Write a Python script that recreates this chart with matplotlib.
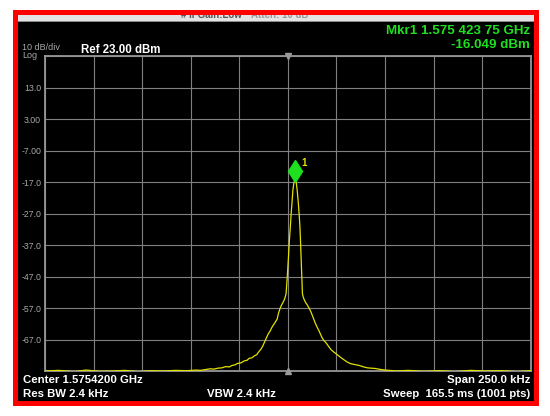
import matplotlib
matplotlib.use("Agg")
import matplotlib.pyplot as plt
import matplotlib.transforms as mtransforms
from matplotlib.patches import Rectangle
import numpy as np

plt.rcParams['font.family'] = ['Liberation Sans', 'DejaVu Sans']

# trace: offset from centre (kHz) and level (dBm)
freq_khz = [-125, -118, -110, -104, -97, -90, -84, -77, -70, -64, -58, -52, -47, -45,
            -42, -40, -38, -36, -34, -32, -30, -29, -27, -26, -24, -22.5, -21, -20,
            -18.5, -17, -16, -15, -14, -13, -12, -11, -10, -9.2, -8.5, -7.8, -7, -6.2,
            -5.5, -4.8, -4, -3.2, -2.5, -2.0, -1.5, -0.9, -0.3, 0.4, 0.8, 1.3, 1.7, 2.2,
            2.6, 3.1, 3.76, 4.3, 4.8, 5.3, 5.8, 6.2, 6.5, 7.0, 7.5, 7.9, 8.6, 9.2, 10,
            10.8, 11.5, 12.2, 13, 14, 15, 16, 16.8, 17.6, 18.4, 19.6, 21, 22.2, 23.5,
            25, 27, 28.8, 30.4, 32, 34, 36.5, 39, 41, 43, 45, 47.6, 50, 52, 54, 56, 62,
            70, 78, 86, 94, 102, 110, 118, 125]
level_dbm = [-77.0, -76.8, -77.2, -76.7, -77.1, -77.0, -76.8, -77.2, -76.9, -77.0, -76.8,
             -76.9, -76.7, -76.8, -76.5, -76.3, -76.4, -76.1, -76.0, -75.6, -75.7, -75.3,
             -75.0, -74.6, -74.4, -73.8, -73.6, -73.0, -72.8, -72.1, -71.8, -70.9, -70.2,
             -69.2, -67.8, -66.4, -65.1, -64.4, -63.5, -62.7, -62.0, -61.2, -60.5, -58.6,
             -57.1, -56.0, -55.2, -54.6, -53.8, -52.4, -47.0, -40.0, -35.4, -31.0, -27.0,
             -23.0, -19.5, -17.2, -16.05, -17.0, -19.5, -23.0, -27.0, -31.0, -35.4, -44.0,
             -52.4, -53.5, -54.6, -55.3, -56.0, -56.9, -57.7, -58.7, -60.0, -61.6, -63.0,
             -64.2, -65.3, -66.4, -67.2, -68.0, -69.2, -70.2, -70.9, -71.6, -72.6, -73.4,
             -74.1, -74.6, -74.9, -75.2, -75.7, -76.0, -76.1, -76.2, -76.5, -76.7, -76.8,
             -76.9, -77.0, -76.8, -77.1, -76.9, -77.2, -76.8, -77.0, -76.9, -77.2, -76.9]

ref_level = 23.0
db_per_div = 10
span_khz = 250.0
ytick_labels = ["13.0", "3.00", "-7.00", "-17.0", "-27.0", "-37.0", "-47.0", "-57.0", "-67.0"]
mkr_freq = 3.75
mkr_level = -16.049

W, H = 550, 416
fig = plt.figure(figsize=(5.5, 4.16), dpi=100, facecolor="white")


def fx(x):
    return x / W


def fy(y):
    return 1 - y / H


# instrument frame
fig.patches.append(Rectangle((fx(13), fy(406)), fx(526), (396) / H, transform=fig.transFigure,
                             facecolor="#ff0000", edgecolor="none", zorder=0))
fig.patches.append(Rectangle((fx(18), fy(401)), fx(516), (386) / H, transform=fig.transFigure,
                             facecolor="black", edgecolor="none", zorder=0))
strip = Rectangle((fx(18), fy(21)), fx(516), 6 / H, transform=fig.transFigure,
                  facecolor="#e4e4e4", edgecolor="none", zorder=1)
fig.patches.append(strip)
fig.patches.append(Rectangle((fx(18), fy(22)), fx(516), 1.2 / H, transform=fig.transFigure,
                             facecolor="#8a8a8a", edgecolor="none", zorder=1))
for s, x, c in [("# IFGain:Low", 181, "#555555"), ("Atten: 10 dB", 251, "#9a9a9a")]:
    t = fig.text(fx(x), fy(15), s, fontsize=7, fontweight="bold", color=c, va="center")
    t.set_clip_path(strip)

ax = fig.add_axes([fx(45), fy(371), fx(485.7), (371 - 56.3) / H])
ax.set_zorder(3)
ax.set_facecolor("black")
ax.set_xlim(-span_khz / 2, span_khz / 2)
bottom = ref_level - 10 * db_per_div
ax.set_ylim(bottom, ref_level)
ax.set_xticks(np.linspace(-span_khz / 2, span_khz / 2, 11))
yt = [ref_level - db_per_div * k for k in range(11)]
ax.set_yticks(yt)
ax.set_yticklabels([""] + ytick_labels + [""])
ax.set_xticklabels([])
ax.tick_params(length=0, labelsize=6.3, labelcolor="#a8a8a8", pad=2.8)
ax.grid(True, color="#808080", lw=0.8)
ax.set_axisbelow(True)
for sp in ax.spines.values():
    sp.set_color("#969696")
    sp.set_linewidth(1.3)

ax.plot(freq_khz, level_dbm, color="#e2e200", lw=0.9, clip_on=True, zorder=3)

# centre markers
ax.plot([0], [ref_level], marker="v", color="#9a9a9a", ms=5, clip_on=False, zorder=4)
ax.plot([0], [bottom], marker="^", color="#9a9a9a", ms=5, clip_on=False, zorder=4)

# marker 1
tr = mtransforms.offset_copy(ax.transData, fig=fig, x=0, y=8, units="dots")
ax.plot([mkr_freq], [mkr_level], marker="d", color="#1ee01e", ms=11.5, transform=tr,
        zorder=5, clip_on=False)
tr2 = mtransforms.offset_copy(ax.transData, fig=fig, x=6, y=16, units="dots")
ax.text(mkr_freq, mkr_level, "1", color="#e2e200", fontsize=7, fontweight="bold",
        transform=tr2, ha="left", va="center")

# annotations
fig.text(fx(530), fy(31.5), "Mkr1 1.575 423 75 GHz", color="#1ee01e", fontsize=9.6,
         fontweight="bold", ha="right", va="center", zorder=4)
fig.text(fx(530), fy(45), "-16.049 dBm", color="#1ee01e", fontsize=9.6,
         fontweight="bold", ha="right", va="center", zorder=4)
fig.text(fx(22), fy(47.5), "10 dB/div", color="#a8a8a8", fontsize=6.5, va="center", zorder=4)
fig.text(fx(22), fy(55), "Log", color="#a8a8a8", fontsize=6.5, va="center", zorder=4)
fig.text(fx(81), fy(50), "Ref 23.00 dBm", color="white", fontsize=8.3,
         fontweight="bold", va="center", zorder=4)

fig.text(fx(23), fy(380), "Center 1.5754200 GHz", color="white", fontsize=8.2,
         fontweight="bold", va="center", zorder=4)
fig.text(fx(530), fy(380), "Span 250.0 kHz", color="white", fontsize=8.2,
         fontweight="bold", va="center", ha="right", zorder=4)
fig.text(fx(23), fy(394), "Res BW 2.4 kHz", color="white", fontsize=8.2,
         fontweight="bold", va="center", zorder=4)
fig.text(fx(207), fy(394), "VBW 2.4 kHz", color="white", fontsize=8.2,
         fontweight="bold", va="center", zorder=4)
fig.text(fx(530), fy(394), "Sweep  165.5 ms (1001 pts)", color="white", fontsize=8.2,
         fontweight="bold", va="center", ha="right", zorder=4)

fig.savefig("out.png", dpi=100, facecolor="white")
